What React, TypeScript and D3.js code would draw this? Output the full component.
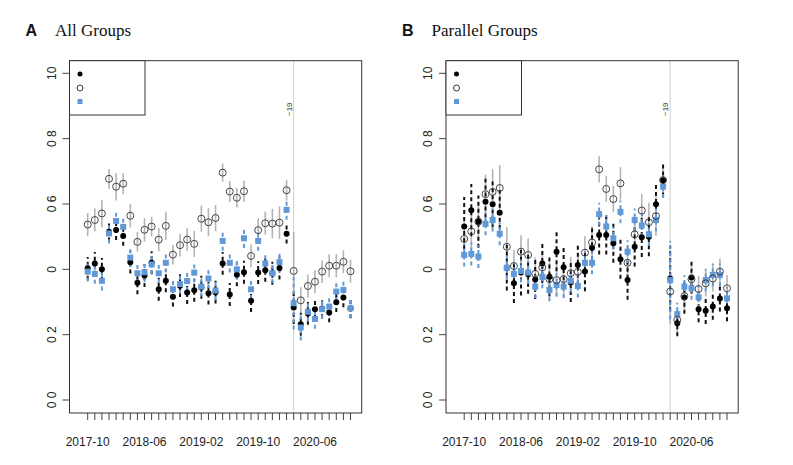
import React, { useRef, useEffect } from "react";
import * as d3 from "d3";

// months on the x axis (one estimate per month)
const months = [
  "2017-10", "2017-11", "2017-12", "2018-01", "2018-02", "2018-03", "2018-04", "2018-05",
  "2018-06", "2018-07", "2018-08", "2018-09", "2018-10", "2018-11", "2018-12", "2019-01",
  "2019-02", "2019-03", "2019-04", "2019-05", "2019-06", "2019-07", "2019-08", "2019-09",
  "2019-10", "2019-11", "2019-12", "2020-01", "2020-02", "2020-03", "2020-04", "2020-05",
  "2020-06", "2020-07", "2020-08", "2020-09", "2020-10", "2020-11",
];
const xTickLabels = ["2017-10", "2018-06", "2019-02", "2019-10", "2020-06"];
const yTicks = [0, 0.2, 0.4, 0.6, 0.8, 1.0];
const yTickLabels = ["0 0", "0 2", "0", "0 6", "0 8", "10"];
const breakMonth = "2020-03";
const breakLabel = "\u221219";

// Panel A: all groups
const allBlack = [0.403, 0.418, 0.4, 0.515, 0.52, 0.502, 0.422, 0.359, 0.381, 0.42, 0.339, 0.365, 0.316, 0.35, 0.329, 0.336, 0.345, 0.327, 0.33, 0.418, 0.323, 0.383, 0.391, 0.304, 0.39, 0.397, 0.388, 0.404, 0.509, 0.283, 0.232, 0.265, 0.278, 0.28, 0.268, 0.299, 0.314, 0.28];
const allBlackErr = [0.035, 0.035, 0.035, 0.03, 0.03, 0.03, 0.035, 0.035, 0.035, 0.035, 0.035, 0.035, 0.03, 0.035, 0.035, 0.035, 0.035, 0.035, 0.035, 0.035, 0.035, 0.035, 0.035, 0.035, 0.035, 0.035, 0.035, 0.035, 0.03, 0.05, 0.035, 0.035, 0.03, 0.03, 0.03, 0.03, 0.03, 0.03];
const allOpen = [0.537, 0.551, 0.571, 0.677, 0.653, 0.662, 0.564, 0.484, 0.521, 0.531, 0.491, 0.533, 0.445, 0.474, 0.491, 0.478, 0.555, 0.544, 0.557, 0.696, 0.638, 0.619, 0.639, 0.441, 0.52, 0.541, 0.54, 0.543, 0.642, 0.395, 0.305, 0.349, 0.362, 0.393, 0.411, 0.411, 0.423, 0.394];
const allOpenErr = [0.035, 0.035, 0.042, 0.03, 0.042, 0.032, 0.036, 0.03, 0.036, 0.03, 0.036, 0.043, 0.03, 0.035, 0.035, 0.04, 0.04, 0.043, 0.04, 0.028, 0.032, 0.03, 0.032, 0.035, 0.036, 0.035, 0.045, 0.05, 0.032, 0.12, 0.04, 0.035, 0.035, 0.035, 0.035, 0.035, 0.035, 0.035];
const allBlue = [0.393, 0.386, 0.365, 0.51, 0.548, 0.53, 0.436, 0.388, 0.391, 0.415, 0.388, 0.42, 0.339, 0.355, 0.364, 0.39, 0.347, 0.372, 0.335, 0.487, 0.42, 0.4, 0.495, 0.339, 0.487, 0.418, 0.388, 0.422, 0.582, 0.296, 0.222, 0.27, 0.248, 0.278, 0.286, 0.332, 0.337, 0.281];
const allBlueErr = [0.03, 0.03, 0.03, 0.03, 0.03, 0.03, 0.03, 0.03, 0.03, 0.03, 0.03, 0.03, 0.03, 0.03, 0.03, 0.03, 0.03, 0.03, 0.03, 0.03, 0.03, 0.03, 0.03, 0.03, 0.03, 0.03, 0.03, 0.03, 0.03, 0.08, 0.04, 0.03, 0.03, 0.03, 0.03, 0.03, 0.03, 0.03];

// Panel B: parallel groups
const parBlack = [0.531, 0.581, 0.546, 0.607, 0.599, 0.573, 0.405, 0.357, 0.39, 0.385, 0.369, 0.418, 0.377, 0.454, 0.406, 0.36, 0.413, 0.393, 0.466, 0.505, 0.505, 0.48, 0.431, 0.367, 0.469, 0.498, 0.5, 0.599, 0.673, 0.372, 0.235, 0.314, 0.375, 0.278, 0.273, 0.286, 0.311, 0.281];
const parBlackErr = [0.09, 0.08, 0.08, 0.07, 0.07, 0.07, 0.07, 0.06, 0.07, 0.06, 0.06, 0.06, 0.06, 0.06, 0.06, 0.06, 0.06, 0.06, 0.06, 0.06, 0.06, 0.06, 0.06, 0.06, 0.06, 0.06, 0.06, 0.06, 0.05, 0.1, 0.04, 0.05, 0.05, 0.04, 0.04, 0.04, 0.04, 0.04];
const parOpen = [0.493, 0.516, 0.546, 0.63, 0.637, 0.649, 0.469, 0.41, 0.454, 0.444, 0.386, 0.406, 0.37, 0.367, 0.37, 0.388, 0.392, 0.451, 0.482, 0.706, 0.646, 0.615, 0.663, 0.42, 0.507, 0.58, 0.544, 0.563, 0.673, 0.332, 0.245, 0.318, 0.37, 0.34, 0.357, 0.372, 0.393, 0.342];
const parOpenErr = [0.06, 0.06, 0.06, 0.06, 0.07, 0.07, 0.06, 0.05, 0.05, 0.05, 0.05, 0.05, 0.05, 0.05, 0.05, 0.05, 0.05, 0.05, 0.05, 0.04, 0.04, 0.04, 0.05, 0.05, 0.05, 0.05, 0.06, 0.06, 0.04, 0.1, 0.04, 0.04, 0.04, 0.04, 0.04, 0.04, 0.04, 0.04];
const parBlue = [0.444, 0.447, 0.439, 0.539, 0.551, 0.509, 0.405, 0.386, 0.395, 0.39, 0.347, 0.377, 0.337, 0.352, 0.347, 0.365, 0.349, 0.42, 0.42, 0.569, 0.531, 0.495, 0.576, 0.454, 0.551, 0.534, 0.507, 0.551, 0.653, 0.367, 0.263, 0.347, 0.342, 0.314, 0.367, 0.383, 0.383, 0.311];
const parBlueErr = [0.035, 0.035, 0.035, 0.035, 0.035, 0.035, 0.035, 0.035, 0.035, 0.035, 0.035, 0.035, 0.035, 0.035, 0.035, 0.035, 0.035, 0.035, 0.035, 0.035, 0.035, 0.035, 0.035, 0.035, 0.035, 0.035, 0.035, 0.035, 0.035, 0.12, 0.035, 0.035, 0.035, 0.035, 0.035, 0.035, 0.035, 0.035];

const BLUE = "#6199d8";
const SANS = "'Liberation Sans', Arial, sans-serif";
const SERIF = "'Liberation Serif', 'DejaVu Serif', serif";

type Panel = {
  letter: string;
  title: string;
  left: number;
  black: number[];
  blackErr: number[];
  open: number[];
  openErr: number[];
  blue: number[];
  blueErr: number[];
};

const panels: Panel[] = [
  { letter: "A", title: "All Groups", left: 69.5, black: allBlack, blackErr: allBlackErr, open: allOpen, openErr: allOpenErr, blue: allBlue, blueErr: allBlueErr },
  { letter: "B", title: "Parallel Groups", left: 446, black: parBlack, blackErr: parBlackErr, open: parOpen, openErr: parOpenErr, blue: parBlue, blueErr: parBlueErr },
];

const App: React.FC = () => {
  const svgRef = useRef<SVGSVGElement | null>(null);

  useEffect(() => {
    if (!svgRef.current) return;
    const svg = d3.select(svgRef.current);
    svg.selectAll("*").remove();

    const top = 60.7;
    const bottom = 413;
    const frameW = 292.2;

    const y = d3.scaleLinear().domain([0, 1]).range([400, 73.3]);

    panels.forEach((p) => {
      const g = svg.append("g");
      const x = d3
        .scalePoint<string>()
        .domain(months)
        .range([p.left + 18.2, p.left + 281]);

      // titles
      g.append("text")
        .attr("x", p.left - 44)
        .attr("y", 36)
        .style("font-family", SANS)
        .style("font-weight", "bold")
        .style("font-size", "16px")
        .attr("fill", "#111")
        .text(p.letter);
      g.append("text")
        .attr("x", p.left - 14.5)
        .attr("y", 36)
        .style("font-family", SERIF)
        .style("font-size", "17px")
        .attr("fill", "#111")
        .text(p.title);

      // reference line
      const bx = x(breakMonth) || 0;
      g.append("line")
        .attr("x1", bx)
        .attr("x2", bx)
        .attr("y1", top)
        .attr("y2", bottom)
        .attr("stroke", "#cfcfcf")
        .attr("stroke-width", 1);
      g.append("text")
        .attr("transform", `translate(${bx - 2},116) rotate(-90)`)
        .style("font-family", SANS)
        .style("font-size", "8px")
        .attr("fill", "#333")
        .text(breakLabel);

      // y axis
      yTicks.forEach((t, i) => {
        g.append("line")
          .attr("x1", p.left - 7)
          .attr("x2", p.left)
          .attr("y1", y(t))
          .attr("y2", y(t))
          .attr("stroke", "#444");
        g.append("text")
          .attr("transform", `translate(${p.left - 14},${y(t)}) rotate(-90)`)
          .attr("text-anchor", "middle")
          .style("font-family", SANS)
          .style("font-size", "12px")
          .attr("fill", "#222")
          .text(yTickLabels[i]);
      });

      // x axis
      months.forEach((m) => {
        g.append("line")
          .attr("x1", x(m) || 0)
          .attr("x2", x(m) || 0)
          .attr("y1", bottom)
          .attr("y2", bottom + 7)
          .attr("stroke", "#444");
      });
      xTickLabels.forEach((m) => {
        g.append("text")
          .attr("x", x(m) || 0)
          .attr("y", 446)
          .attr("text-anchor", "middle")
          .style("font-family", SANS)
          .style("font-size", "12px")
          .attr("fill", "#222")
          .text(m);
      });

      // error bars
      const bars = (vals: number[], errs: number[], color: string, dash: string | null, w: number) => {
        g.selectAll(null)
          .data(vals)
          .enter()
          .append("line")
          .attr("x1", (_, i) => x(months[i]) || 0)
          .attr("x2", (_, i) => x(months[i]) || 0)
          .attr("y1", (d, i) => y(d - errs[i]))
          .attr("y2", (d, i) => y(d + errs[i]))
          .attr("stroke", color)
          .attr("stroke-width", w)
          .attr("stroke-dasharray", dash);
      };
      bars(p.open, p.openErr, "#b4b4b4", null, 1.6);
      bars(p.black, p.blackErr, "#111", "4,3", 2);
      bars(p.blue, p.blueErr, BLUE, "4,3", 2);

      // points
      g.selectAll(null)
        .data(p.black)
        .enter()
        .append("circle")
        .attr("cx", (_, i) => x(months[i]) || 0)
        .attr("cy", (d) => y(d))
        .attr("r", 3)
        .attr("fill", "#000");
      g.selectAll(null)
        .data(p.blue)
        .enter()
        .append("rect")
        .attr("x", (_, i) => (x(months[i]) || 0) - 3)
        .attr("y", (d) => y(d) - 3)
        .attr("width", 6)
        .attr("height", 6)
        .attr("fill", BLUE);
      g.selectAll(null)
        .data(p.open)
        .enter()
        .append("circle")
        .attr("cx", (_, i) => x(months[i]) || 0)
        .attr("cy", (d) => y(d))
        .attr("r", 3.5)
        .attr("fill", "none")
        .attr("stroke", "#333")
        .attr("stroke-width", 0.9);

      // frame
      g.append("rect")
        .attr("x", p.left)
        .attr("y", top)
        .attr("width", frameW)
        .attr("height", bottom - top)
        .attr("fill", "none")
        .attr("stroke", "#333")
        .attr("stroke-width", 1);

      // legend box (symbols only)
      g.append("rect")
        .attr("x", p.left)
        .attr("y", top)
        .attr("width", 75.5)
        .attr("height", 54.3)
        .attr("fill", "#fff")
        .attr("stroke", "#333")
        .attr("stroke-width", 1);
      const lx = p.left + 10.5;
      g.append("circle").attr("cx", lx).attr("cy", 74).attr("r", 2.5).attr("fill", "#000");
      g.append("circle")
        .attr("cx", lx)
        .attr("cy", 88)
        .attr("r", 3)
        .attr("fill", "none")
        .attr("stroke", "#222")
        .attr("stroke-width", 0.9);
      g.append("rect")
        .attr("x", lx - 2.5)
        .attr("y", 99)
        .attr("width", 5)
        .attr("height", 5)
        .attr("fill", BLUE);
    });
  }, []);

  return (
    <svg
      ref={svgRef}
      width={793}
      height={465}
      style={{ position: "absolute", left: 0, top: 0, background: "#fff" }}
    />
  );
};

export default App;
